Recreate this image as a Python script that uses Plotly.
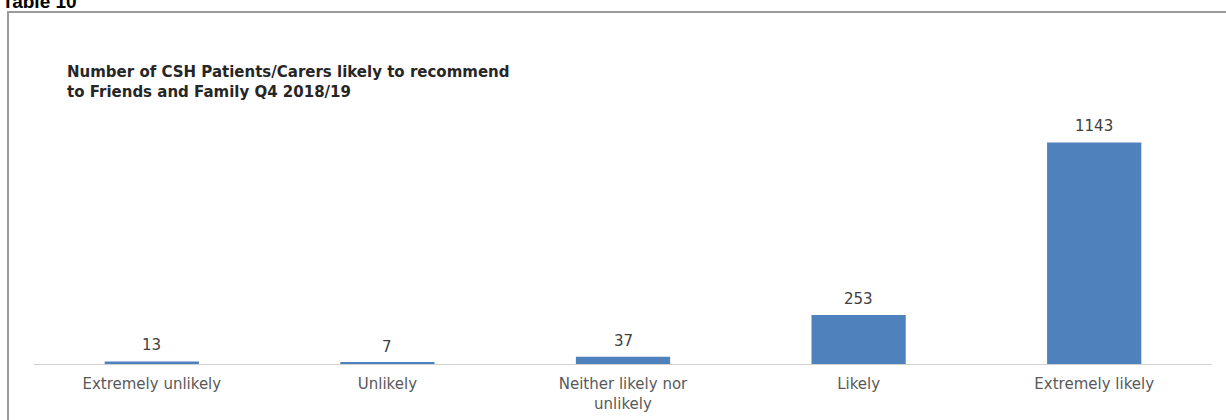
import plotly.graph_objects as go

# Friends and Family responses, Q4 2018/19
categories = [
    "Extremely unlikely",
    "Unlikely",
    "Neither likely nor<br>unlikely",
    "Likely",
    "Extremely likely",
]
responses = [13, 7, 37, 253, 1143]

W, H = 1226, 420
M_L, M_R, M_T, M_B = 34, 14, 112, 56
Y_MAX = 1300

plot_w = W - M_L - M_R
plot_h = H - M_T - M_B


def px_to_paper_x(px):
    return (px - M_L) / plot_w


def px_to_paper_y(py):
    return 1 + (M_T - py) / plot_h


fig = go.Figure(
    go.Bar(
        x=categories,
        y=responses,
        marker=dict(color="#4F81BD", line=dict(width=0)),
        hoverinfo="x+y",
    )
)

# value labels sitting just above each bar
value_labels = [
    dict(
        x=cat,
        y=val,
        xref="x",
        yref="y",
        text=str(val),
        showarrow=False,
        yanchor="bottom",
        yshift=5,
        font=dict(family="DejaVu Sans", size=15, color="#404040"),
    )
    for cat, val in zip(categories, responses)
]

fig.update_layout(
    width=W,
    height=H,
    margin=dict(l=M_L, r=M_R, t=M_T, b=M_B, autoexpand=False),
    paper_bgcolor="white",
    plot_bgcolor="white",
    bargap=0.6,
    showlegend=False,
    title=dict(
        text="Number of CSH Patients/Carers likely to recommend<br>to Friends and Family Q4 2018/19",
        font=dict(family="DejaVu Sans", size=15, color="#262626", weight="bold"),
        xref="container",
        yref="container",
        x=67 / W,
        y=1 - 77 / H,
        xanchor="left",
        yanchor="top",
    ),
    xaxis=dict(
        showline=True,
        linecolor="#d0d0d0",
        linewidth=1,
        showgrid=False,
        ticks="",
        ticklabelstandoff=6,
        automargin=False,
        tickfont=dict(family="DejaVu Sans", size=15, color="#595959"),
        fixedrange=True,
    ),
    yaxis=dict(
        range=[0, Y_MAX],
        visible=False,
        showgrid=False,
        zeroline=False,
        automargin=False,
        fixedrange=True,
    ),
    annotations=value_labels + [
        dict(
            text="<b>Table 10</b>",
            xref="paper",
            yref="paper",
            x=px_to_paper_x(0),
            y=px_to_paper_y(1),
            xanchor="left",
            yanchor="middle",
            showarrow=False,
            font=dict(family="Liberation Sans", size=19, color="#000000"),
        )
    ],
    shapes=[
        dict(
            type="rect",
            xref="paper",
            yref="paper",
            x0=px_to_paper_x(8),
            x1=px_to_paper_x(W + 10),
            y0=px_to_paper_y(H + 10),
            y1=px_to_paper_y(12),
            line=dict(color="#9a9a9a", width=2),
            fillcolor="rgba(0,0,0,0)",
            layer="below",
        )
    ],
)

fig.write_html("out.html")
